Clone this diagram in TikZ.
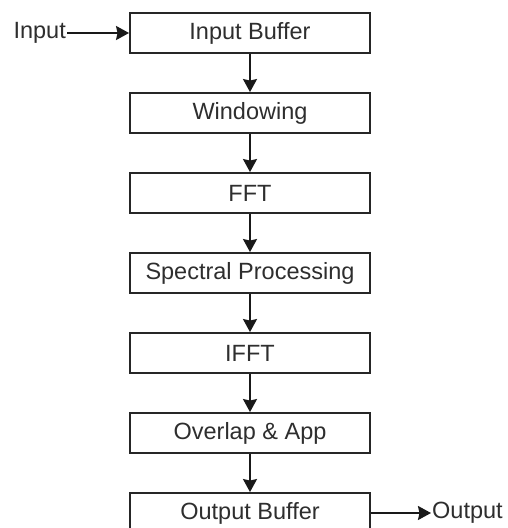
\documentclass[tikz,border=0pt]{standalone}
\usepackage{fontspec}
\setmainfont{Liberation Sans}
\usetikzlibrary{arrows.meta}
\begin{document}
\begin{tikzpicture}[x=1pt,y=-1pt,
  stagebox/.style={draw=black!85, line width=1.9pt, minimum width=240pt, minimum height=40pt, inner sep=0pt, font=\fontsize{23.5}{25}\selectfont, text=black!82},
  lbl/.style={inner sep=1pt, font=\fontsize{23.5}{25}\selectfont, text=black!82},
  flow/.style={draw=black!90, line width=1.9pt, -{Stealth[length=13pt,width=14pt,inset=1.5pt]}}]
\clip (0,0) rectangle (508,528);
\fill[white] (0,0) rectangle (508,528);
\node[stagebox] (ib) at (250,33) {Input Buffer};
\node[stagebox] (win) at (250,113) {Windowing};
\node[stagebox] (fft) at (250,193) {FFT};
\node[stagebox] (sp) at (250,273) {Spectral Processing};
\node[stagebox] (ifft) at (250,353) {IFFT};
\node[stagebox] (ola) at (250,433) {Overlap \& App};
\node[stagebox] (ob) at (250,513) {Output Buffer};
\node[lbl, anchor=east] (in) at (67,33) {Input};
\node[lbl, anchor=west] (out) at (431,513) {Output};
\draw[flow] (in) -- (ib);
\draw[flow] (ib) -- (win);
\draw[flow] (win) -- (fft);
\draw[flow] (fft) -- (sp);
\draw[flow] (sp) -- (ifft);
\draw[flow] (ifft) -- (ola);
\draw[flow] (ola) -- (ob);
\draw[flow] (ob) -- (out);
\end{tikzpicture}
\end{document}
